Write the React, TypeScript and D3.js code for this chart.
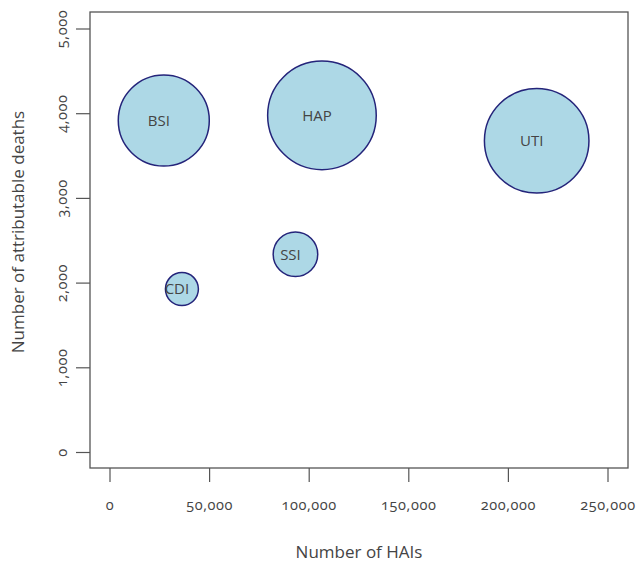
import React from "react";
import * as d3 from "d3";

// infection types and their burden values
const infections = ["BSI", "HAP", "UTI", "SSI", "CDI"];
const hais = [27000, 106400, 214200, 93100, 36100];
const deaths = [3920, 3980, 3680, 2340, 1930];
const dalys = [57600, 82000, 76000, 13800, 7560];

const xTicks = [0, 50000, 100000, 150000, 200000, 250000];
const yTicks = [0, 1000, 2000, 3000, 4000, 5000];

const W = 639;
const H = 563;
const box = { left: 90, right: 628, top: 12, bottom: 468 };

const fmt = d3.format(",");
const font = "'Open Sans', 'Noto Sans', sans-serif";

export default function App() {
  const x = d3.scaleLinear().domain([0, 250000]).range([110, 608]);
  const y = d3.scaleLinear().domain([0, 5000]).range([452.5, 29]);
  const r = d3.scaleSqrt().domain([0, 82000]).range([0, 54.3]);

  const data = infections.map((name, i) => ({
    name,
    hais: hais[i],
    deaths: deaths[i],
    dalys: dalys[i],
  }));

  return (
    <svg
      width={W}
      height={H}
      style={{ position: "fixed", left: 0, top: 0, display: "block", background: "#fff" }}
    >
      {/* bubbles */}
      {data.map((d) => (
        <g key={d.name}>
          <circle
            cx={x(d.hais)}
            cy={y(d.deaths)}
            r={r(d.dalys)}
            fill="#add8e6"
            stroke="#24247a"
            strokeWidth={1.5}
          />
          <text
            x={x(d.hais) - 5}
            y={y(d.deaths)}
            dy="0.35em"
            textAnchor="middle"
            fontFamily={font}
            fontSize={15}
            fill="#444"
          >
            {d.name}
          </text>
        </g>
      ))}

      {/* plot frame */}
      <rect
        x={box.left}
        y={box.top}
        width={box.right - box.left}
        height={box.bottom - box.top}
        fill="none"
        stroke="#555"
        strokeWidth={1.3}
      />

      {/* x axis */}
      {xTicks.map((t) => (
        <g key={"x" + t}>
          <line x1={x(t)} x2={x(t)} y1={box.bottom} y2={box.bottom + 14} stroke="#555" strokeWidth={1.2} />
          <text
            x={x(t)}
            y={510}
            textAnchor="middle"
            fontFamily={font}
            fontSize={14.5}
            fill="#444"
            style={{ fontVariantNumeric: "oldstyle-nums", letterSpacing: "0.6px" }}
          >
            {fmt(t)}
          </text>
        </g>
      ))}
      <text x={359} y={558} textAnchor="middle" fontFamily={font} fontSize={17} fill="#444">
        Number of HAIs
      </text>

      {/* y axis */}
      {yTicks.map((t) => (
        <g key={"y" + t}>
          <line x1={box.left - 14} x2={box.left} y1={y(t)} y2={y(t)} stroke="#555" strokeWidth={1.2} />
          <text
            transform={`translate(67,${y(t)}) rotate(-90)`}
            textAnchor="middle"
            fontFamily={font}
            fontSize={14.5}
            fill="#444"
            style={{ fontVariantNumeric: "oldstyle-nums", letterSpacing: "0.6px" }}
          >
            {fmt(t)}
          </text>
        </g>
      ))}
      <text
        transform={`translate(24,232) rotate(-90)`}
        textAnchor="middle"
        fontFamily={font}
        fontSize={17}
        fill="#444"
      >
        Number of attributable deaths
      </text>
    </svg>
  );
}
